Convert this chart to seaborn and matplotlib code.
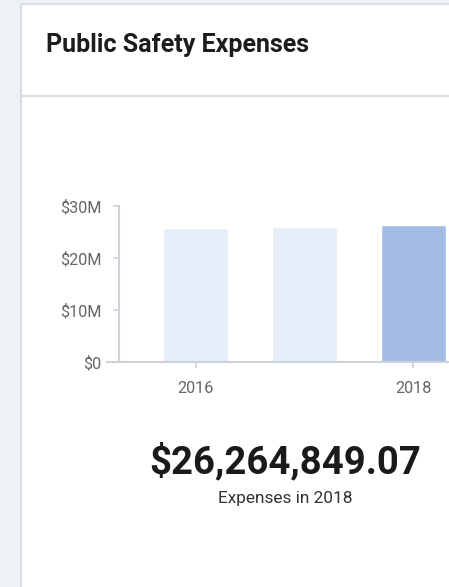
import matplotlib
matplotlib.use("Agg")
import matplotlib.pyplot as plt
from matplotlib import font_manager
from matplotlib.patches import Rectangle
from matplotlib.lines import Line2D
import seaborn as sns

# Annual public safety expenses
years = ["2016", "2017", "2018"]
expenses = [25_800_000, 26_000_000, 26_264_849.07]
bar_colors = ["#e6edf8", "#e6edf8", "#a3bce6"]
shown_year_labels = ["2016", "2018"]
y_ticks = [0, 10_000_000, 20_000_000, 30_000_000]
y_tick_labels = ["$0", "$10M", "$20M", "$30M"]
title = "Public Safety Expenses"
headline_year = "2018"


def first_font(candidates):
    names = {f.name for f in font_manager.fontManager.ttflist}
    for c in candidates:
        if c in names:
            return c
    return "DejaVu Sans"


narrow = first_font(["Liberation Sans Narrow", "Roboto"])
heading = first_font(["Roboto", "Lato", "DejaVu Sans"])

sns.set_theme(style="white")
plt.rcParams["font.family"] = [narrow, "DejaVu Sans"]

W, H, DPI = 449, 587, 100
fig = plt.figure(figsize=(W / DPI, H / DPI), dpi=DPI)
fig.patch.set_facecolor("#eef1f5")


def fx(px):
    return px / W


def fy(py):
    return 1 - py / H


# Card panel
card = Rectangle((fx(21), fy(H + 10)), 1.2, (H + 10 - 4) / H,
                 transform=fig.transFigure, facecolor="white",
                 edgecolor="#dadee4", linewidth=1.5, zorder=-5)
fig.add_artist(card)
fig.add_artist(Line2D([fx(22), 1.0], [fy(95.5), fy(95.5)],
                      transform=fig.transFigure, color="#d9dde3",
                      linewidth=1.6, zorder=-4))

fig.text(fx(46), fy(52), title, family=heading, fontweight="bold",
         fontsize=18, color="#1c1c1c", ha="left", va="baseline")

# Bar chart area
ax_left, ax_right, ax_top, ax_bottom = 107, 449, 206, 362
ax = fig.add_axes([fx(ax_left), fy(ax_bottom), fx(ax_right - ax_left),
                   (ax_bottom - ax_top) / H])
ax.set_zorder(2)
ax.set_facecolor("none")

sns.barplot(x=years, y=expenses, hue=years, palette=bar_colors,
            legend=False, width=0.6, saturation=1, ax=ax)

step = 108.8
center0 = 195.7
ax.set_xlim((ax_left - center0) / step, (ax_right - center0) / step)
ax.set_ylim(0, y_ticks[-1])

ax.set_yticks(y_ticks)
ax.set_yticklabels(y_tick_labels)
ax.set_xticks([years.index(y) for y in shown_year_labels])
ax.set_xticklabels(shown_year_labels)

for s in ["top", "right"]:
    ax.spines[s].set_visible(False)
spine_col = "#cdd1d8"
ax.spines["left"].set_position(("data", (119 - center0) / step))
for s in ["left", "bottom"]:
    ax.spines[s].set_color(spine_col)
    ax.spines[s].set_linewidth(1.5)

ax.tick_params(axis="y", length=4, width=1.2, color=spine_col, pad=8.5,
               labelsize=11.7, labelcolor="#666666", left=True)
ax.tick_params(axis="x", length=4, width=1.2, color=spine_col, pad=9.5,
               labelsize=11.7, labelcolor="#666666", bottom=True)
ax.set_xlabel("")
ax.set_ylabel("")

# Headline figure
latest = expenses[years.index(headline_year)]
fig.text(fx(285), fy(473), f"${latest:,.2f}", fontsize=27.5, fontweight="bold",
         color="#1a1a1a", ha="center", va="baseline")
fig.text(fx(285), fy(503), f"Expenses in {headline_year}", fontsize=12.4,
         color="#333333", ha="center", va="baseline")

fig.savefig("out.png", dpi=DPI, facecolor=fig.get_facecolor())
